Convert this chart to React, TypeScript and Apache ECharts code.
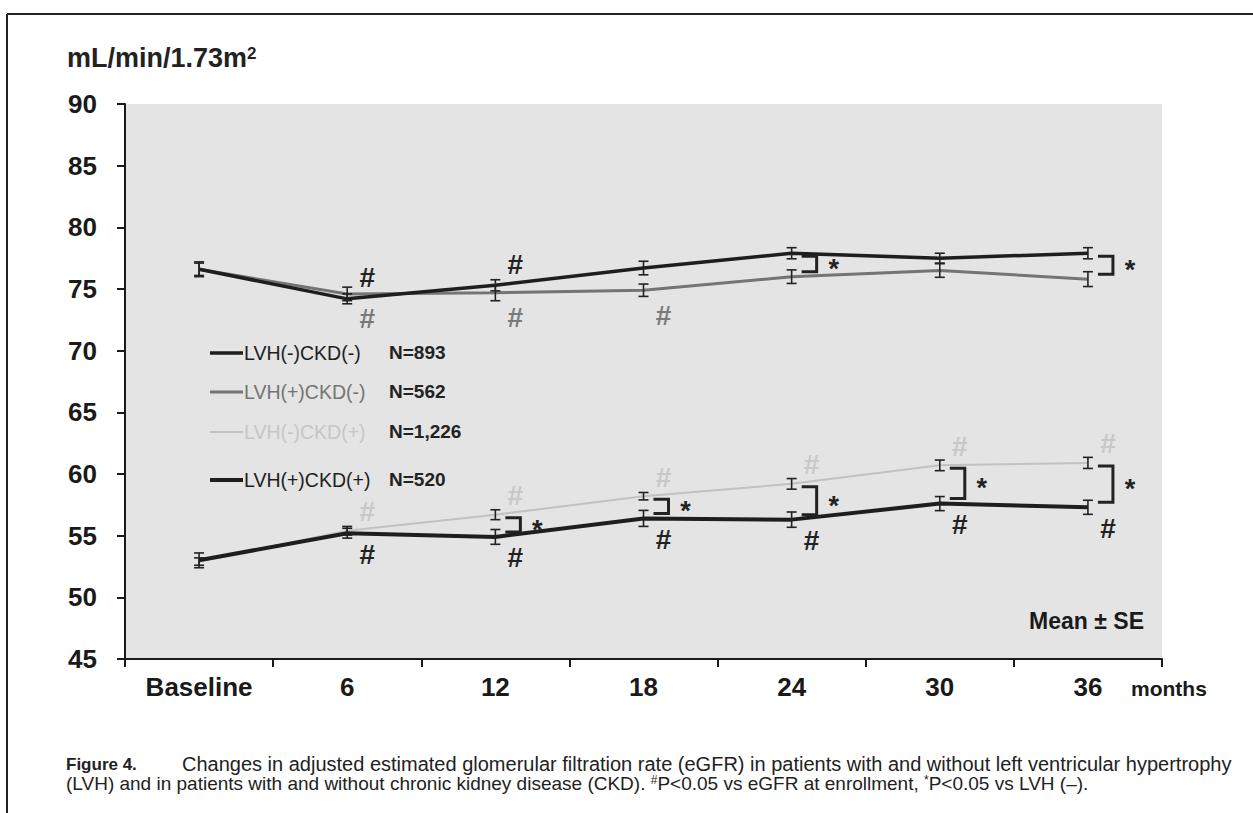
import React, { useEffect, useRef } from 'react';
import * as echarts from 'echarts';

const categories = ['Baseline', '6', '12', '18', '24', '30', '36'];

const lvhNegCkdNeg = [76.6, 74.2, 75.3, 76.7, 77.9, 77.5, 77.9];
const lvhNegCkdNegSE = [0.6, 0.4, 0.45, 0.55, 0.45, 0.4, 0.45];
const lvhPosCkdNeg = [76.6, 74.6, 74.7, 74.9, 76.0, 76.5, 75.8];
const lvhPosCkdNegSE = [0.5, 0.55, 0.65, 0.5, 0.55, 0.55, 0.6];
const lvhNegCkdPos = [52.9, 55.4, 56.7, 58.2, 59.2, 60.7, 60.9];
const lvhNegCkdPosSE = [0.3, 0.35, 0.4, 0.3, 0.43, 0.43, 0.45];
const lvhPosCkdPos = [53.0, 55.2, 54.9, 56.4, 56.3, 57.6, 57.3];
const lvhPosCkdPosSE = [0.6, 0.4, 0.6, 0.65, 0.62, 0.57, 0.57];

// indices of time points with #P<0.05 vs enrollment
const hashNegNeg = [1, 2];
const hashPosNeg = [1, 2, 3];
const hashNegPos = [1, 2, 3, 4, 5, 6];
const hashPosPos = [1, 2, 3, 4, 5, 6];
// indices with *P<0.05 vs LVH(-)
const starUpper = [4, 6];
const starLower = [2, 3, 4, 5, 6];

const legendNames = ['LVH(-)CKD(-)', 'LVH(+)CKD(-)', 'LVH(-)CKD(+)', 'LVH(+)CKD(+)'];
const legendN = ['N=893', 'N=562', 'N=1,226', 'N=520'];

const FONT = '"Liberation Sans", Arial, Helvetica, sans-serif';
const DARK = '#1e1e1e';
const GRAY = '#747474';
const LIGHT = '#c2c2c2';

function lineSeries(name: string, data: number[], color: string, width: number) {
  return {
    name,
    type: 'line',
    data,
    showSymbol: false,
    symbol: 'none',
    z: 3,
    lineStyle: { color, width },
    itemStyle: { color },
  };
}

function errorSeries(values: number[], se: number[]) {
  return {
    type: 'custom',
    z: 5,
    data: values.map((v, i) => [i, v, se[i]]),
    renderItem: (_p: any, api: any) => {
      const i = api.value(0);
      const v = api.value(1);
      const s = api.value(2);
      const hi = api.coord([i, v + s]);
      const lo = api.coord([i, v - s]);
      const x = hi[0];
      const w = 5;
      const st = { stroke: '#222', lineWidth: 1.6 };
      return {
        type: 'group',
        children: [
          { type: 'line', shape: { x1: x, y1: hi[1], x2: x, y2: lo[1] }, style: st },
          { type: 'line', shape: { x1: x - w, y1: hi[1], x2: x + w, y2: hi[1] }, style: st },
          { type: 'line', shape: { x1: x - w, y1: lo[1], x2: x + w, y2: lo[1] }, style: st },
        ],
      };
    },
  };
}

function hashSeries(idx: number[], values: number[], color: string, dy: number) {
  return {
    type: 'custom',
    z: 6,
    data: idx.map((i) => [i, values[i]]),
    renderItem: (_p: any, api: any) => {
      const c = api.coord([api.value(0), api.value(1)]);
      return {
        type: 'text',
        x: c[0] + 20,
        y: c[1] + dy,
        style: {
          text: '#',
          fill: color,
          font: `bold 28px ${FONT}`,
          align: 'center',
          verticalAlign: 'middle',
        },
      };
    },
  };
}

function bracketSeries(idx: number[], upper: number[], lower: number[]) {
  return {
    type: 'custom',
    z: 6,
    data: idx.map((i) => [i, upper[i], lower[i]]),
    renderItem: (_p: any, api: any) => {
      const i = api.value(0);
      const a = api.coord([i, api.value(1)]);
      const b = api.coord([i, api.value(2)]);
      const x = a[0];
      const y1 = a[1] + 3;
      const y2 = b[1] - 5;
      return {
        type: 'group',
        children: [
          {
            type: 'polyline',
            shape: { points: [[x + 10, y1], [x + 25, y1], [x + 25, y2], [x + 10, y2]] },
            style: { stroke: '#222', lineWidth: 3, fill: 'none' },
          },
          {
            type: 'text',
            x: x + 42,
            y: (y1 + y2) / 2 + 5,
            style: {
              text: '*',
              fill: '#222',
              font: `bold 27px ${FONT}`,
              align: 'center',
              verticalAlign: 'middle',
            },
          },
        ],
      };
    },
  };
}

export default function App() {
  const ref = useRef<HTMLDivElement>(null);

  useEffect(() => {
    document.body.style.margin = '0';
    const chart = echarts.init(ref.current!, null, { renderer: 'svg' });

    const legendColors = [DARK, GRAY, LIGHT, DARK];
    const legendWidths = [3.5, 3, 2, 4];
    const legendY = [353, 392, 432, 480];
    const legendGraphics: any[] = [];
    legendNames.forEach((n, k) => {
      legendGraphics.push({
        type: 'line',
        shape: { x1: 210, y1: legendY[k], x2: 243, y2: legendY[k] },
        style: { stroke: legendColors[k], lineWidth: legendWidths[k] },
        z: 10,
      });
      legendGraphics.push({
        type: 'text',
        x: 244,
        y: legendY[k],
        style: {
          text: n,
          fill: k === 2 ? '#c6c6c6' : legendColors[k],
          font: `19.5px ${FONT}`,
          verticalAlign: 'middle',
        },
        z: 10,
      });
      legendGraphics.push({
        type: 'text',
        x: 389,
        y: legendY[k] - 1,
        style: {
          text: legendN[k],
          fill: '#222',
          font: `bold 19px ${FONT}`,
          verticalAlign: 'middle',
        },
        z: 10,
      });
    });

    const option: any = {
      animation: false,
      backgroundColor: '#ffffff',
      textStyle: { fontFamily: FONT },
      grid: {
        left: 125,
        right: 91,
        top: 104,
        bottom: 154,
        show: true,
        backgroundColor: '#e4e4e4',
        borderWidth: 0,
      },
      xAxis: {
        type: 'category',
        data: categories,
        boundaryGap: true,
        axisLine: { show: true, lineStyle: { color: '#1a1a1a', width: 2 } },
        axisTick: { show: true, length: 8, interval: 0, lineStyle: { color: '#1a1a1a', width: 2 } },
        axisLabel: {
          fontSize: 26,
          fontWeight: 'bold',
          color: '#1a1a1a',
          margin: 15,
          fontFamily: FONT,
          interval: 0,
        },
        splitLine: { show: false },
      },
      yAxis: {
        type: 'value',
        min: 45,
        max: 90,
        interval: 5,
        axisLine: { show: true, lineStyle: { color: '#1a1a1a', width: 2 } },
        axisTick: { show: true, length: 8, lineStyle: { color: '#1a1a1a', width: 2 } },
        axisLabel: {
          fontSize: 26,
          fontWeight: 'bold',
          color: '#1a1a1a',
          margin: 28,
          fontFamily: FONT,
        },
        splitLine: { show: false },
      },
      series: [
        lineSeries('LVH(+)CKD(-)', lvhPosCkdNeg, GRAY, 3),
        lineSeries('LVH(-)CKD(-)', lvhNegCkdNeg, DARK, 3.5),
        lineSeries('LVH(-)CKD(+)', lvhNegCkdPos, LIGHT, 2),
        lineSeries('LVH(+)CKD(+)', lvhPosCkdPos, DARK, 4),
        errorSeries(lvhPosCkdNeg, lvhPosCkdNegSE),
        errorSeries(lvhNegCkdNeg, lvhNegCkdNegSE),
        errorSeries(lvhNegCkdPos, lvhNegCkdPosSE),
        errorSeries(lvhPosCkdPos, lvhPosCkdPosSE),
        hashSeries(hashNegNeg, lvhNegCkdNeg, '#222', -21),
        hashSeries(hashPosNeg, lvhPosCkdNeg, '#7a7a7a', 25),
        hashSeries(hashNegPos, lvhNegCkdPos, '#c8c8c8', -19),
        hashSeries(hashPosPos, lvhPosCkdPos, '#222', 21),
        bracketSeries(starUpper, lvhNegCkdNeg, lvhPosCkdNeg),
        bracketSeries(starLower, lvhNegCkdPos, lvhPosCkdPos),
      ],
      graphic: [
        // frame
        { type: 'line', shape: { x1: 7, y1: 14, x2: 1253, y2: 14 }, style: { stroke: '#222', lineWidth: 2 } },
        { type: 'line', shape: { x1: 7, y1: 14, x2: 7, y2: 813 }, style: { stroke: '#222', lineWidth: 2 } },
        // unit title
        {
          type: 'text',
          x: 67,
          y: 58,
          style: {
            text: '{a|mL/min/1.73m}{s|2}',
            verticalAlign: 'middle',
            rich: {
              a: { font: `bold 27px ${FONT}`, fill: '#222' },
              s: { font: `bold 17px ${FONT}`, fill: '#222', verticalAlign: 'top', padding: [0, 0, 10, 0] },
            },
          },
        },
        // months
        {
          type: 'text',
          x: 1131,
          y: 688,
          style: { text: 'months', fill: '#1a1a1a', font: `bold 21px ${FONT}`, verticalAlign: 'middle' },
        },
        // Mean ± SE
        {
          type: 'text',
          x: 1144,
          y: 621,
          style: { text: 'Mean ± SE', fill: '#1a1a1a', font: `bold 23px ${FONT}`, align: 'right', verticalAlign: 'middle' },
        },
        ...legendGraphics,
        // caption
        {
          type: 'text',
          x: 66,
          y: 764,
          style: { text: 'Figure 4.', fill: '#222', font: `bold 17px ${FONT}`, verticalAlign: 'middle' },
        },
        {
          type: 'text',
          x: 182,
          y: 764,
          style: {
            text: 'Changes in adjusted estimated glomerular filtration rate (eGFR) in patients with and without left ventricular hypertrophy',
            fill: '#222',
            font: `20px ${FONT}`,
            verticalAlign: 'middle',
          },
        },
        {
          type: 'text',
          x: 66,
          y: 783,
          style: {
            text: '(LVH) and in patients with and without chronic kidney disease (CKD). {s|#}P<0.05 vs eGFR at enrollment, {s|*}P<0.05 vs LVH (–).',
            fill: '#222',
            font: `19px ${FONT}`,
            verticalAlign: 'middle',
            rich: {
              s: { font: `12px ${FONT}`, fill: '#222', verticalAlign: 'top' },
            },
          },
        },
      ],
    };

    chart.setOption(option);
    return () => chart.dispose();
  }, []);

  return <div ref={ref} style={{ width: 1253, height: 813, background: '#fff' }} />;
}
